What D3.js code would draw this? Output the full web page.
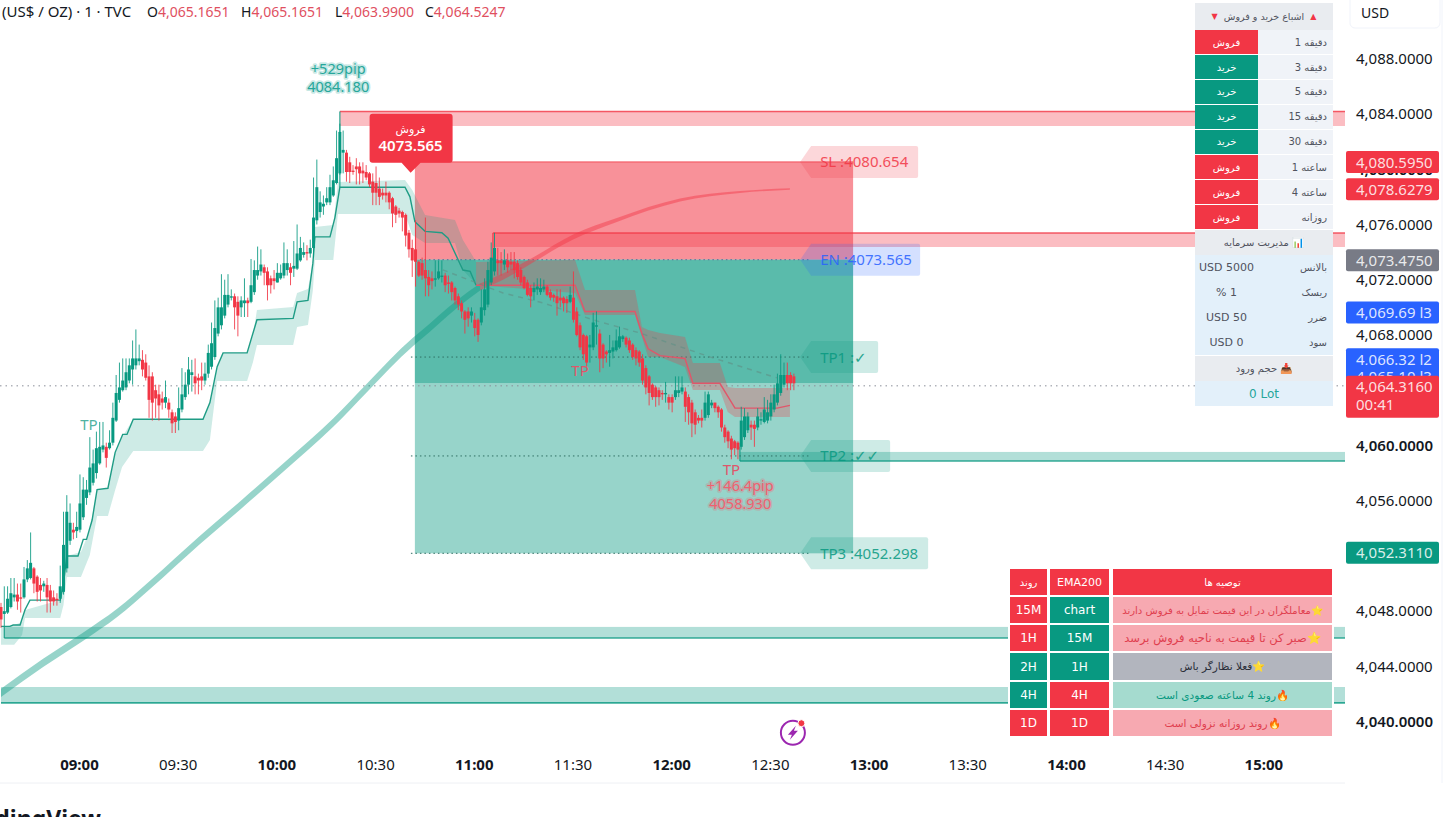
<!DOCTYPE html>
<html lang="en">

<head>
    <meta charset="UTF-8">
    <title>XAU/USD 1m - D3.JS</title>
    <style>
        html, body { margin: 0; padding: 0; background: #fff; overflow: hidden; }
        body { width: 1453px; height: 817px; position: relative; font-family: "Noto Sans", "DejaVu Sans", sans-serif; }
        svg { position: absolute; left: 0; top: 0; }
        .cell { position: absolute; display: flex; align-items: center; justify-content: center; box-sizing: border-box; white-space: nowrap; font-family: "DejaVu Sans", "Noto Sans", sans-serif; }
        .glow { paint-order: stroke; stroke-linejoin: round; }
        .tick line, .domain { display: none; }
    </style>
    <script src="https://d3js.org/d3.v7.min.js"></script>
</head>

<body>
    <div class="graph"></div>
</body>
<script>
    // one minute candles, first one is 08:36
    const opens = [
        4048.3,4047.8,4047.9,4048.3,4049.0,4049.2,4049.0,4049.0,4050.3,4050.4,
        4051.1,4050.5,4049.9,4049.8,4049.9,4049.5,4049.0,4048.9,4048.9,4049.4,
        4051.1,4053.1,4053.9,4053.8,4053.9,4054.8,4056.2,4056.6,4057.3,4058.0,
        4058.7,4059.7,4059.9,4059.8,4060.2,4061.8,4063.3,4064.0,4064.2,4064.7,
        4065.5,4065.8,4066.1,4066.2,4066.0,4065.0,4065.0,4064.0,4063.7,4063.4,
        4063.1,4063.1,4062.4,4062.1,4061.8,4062.6,4063.5,4064.4,4065.1,4065.0,
        4064.9,4065.0,4064.7,4065.2,4065.7,4066.4,4068.1,4068.7,4069.4,4070.2,
        4070.7,4070.8,4070.4,4070.0,4070.3,4070.5,4070.4,4071.1,4072.3,4072.6,
        4072.9,4072.6,4072.1,4072.1,4071.8,4072.1,4072.3,4072.7,4072.9,4072.8,
        4072.8,4073.4,4073.8,4074.0,4073.9,4074.3,4076.3,4076.9,4077.3,4077.6,
        4077.6,4078.1,4079.0,4079.7,4081.2,4081.2,4080.5,4079.9,4080.2,4080.2,
        4079.9,4079.8,4079.7,4079.1,4079.0,4078.6,4078.3,4078.3,4078.3,4077.9,
        4077.3,4077.0,4076.9,4076.7,4075.4,4074.3,4074.2,4073.3,4073.2,4072.7,
        4072.2,4072.1,4072.0,4072.1,4072.2,4072.3,4071.8,4071.8,4071.4,4070.8,
        4070.3,4069.7,4069.7,4069.4,4069.1,4069.1,4068.9,4069.8,4070.2,4071.8,
        4072.6,4073.4,4073.4,4073.1,4073.4,4073.3,4073.3,4073.2,4072.7,4072.2,
        4071.8,4071.4,4071.1,4071.3,4071.1,4071.3,4071.5,4071.1,4070.9,4070.8,
        4070.7,4070.7,4070.6,4070.4,4070.7,4069.7,4068.7,4068.0,4067.9,4067.1,
        4067.1,4068.6,4068.1,4067.3,4066.8,4066.7,4066.8,4066.9,4067.1,4067.7,
        4067.8,4067.6,4067.3,4066.9,4066.8,4066.3,4065.6,4065.0,4064.4,4064.2,
        4064.0,4063.8,4063.7,4063.5,4063.5,4063.5,4063.8,4063.9,4063.9,4063.5,
        4063.1,4062.4,4062.0,4062.0,4062.0,4062.2,4062.9,4063.1,4062.8,4062.6,
        4061.3,4061.0,4060.5,4060.3,4060.2,4059.9,4060.6,4061.1,4061.5,4061.5,
        4061.3,4061.8,4061.7,4061.8,4062.1,4062.6,4063.1,4063.8,4064.4,4065.1,
        4065.1,4065.0]
    const highs = [
        4048.6,4049.8,4049.8,4050.4,4050.4,4050.0,4050.0,4051.2,4051.7,4053.7,
        4051.2,4050.6,4050.4,4050.2,4050.4,4049.9,4049.5,4049.3,4051.3,4055.2,
        4056.4,4055.8,4054.4,4055.2,4057.9,4057.7,4057.5,4060.6,4059.7,4061.0,
        4061.7,4061.7,4060.2,4061.1,4063.1,4065.1,4066.0,4066.3,4066.3,4066.3,
        4067.6,4068.4,4067.3,4066.9,4066.6,4065.8,4065.3,4064.4,4064.4,4063.9,
        4064.7,4063.4,4062.6,4062.4,4064.2,4065.6,4065.3,4066.4,4066.2,4066.3,
        4065.2,4066.0,4066.0,4067.3,4068.9,4070.5,4070.7,4072.4,4072.0,4072.4,
        4071.3,4071.0,4070.8,4070.8,4072.1,4070.7,4073.5,4073.4,4074.4,4074.2,
        4073.1,4072.9,4072.3,4072.7,4073.2,4073.1,4074.7,4074.2,4073.2,4074.8,
        4076.0,4075.1,4074.7,4074.5,4074.9,4079.4,4080.7,4078.4,4078.1,4078.7,
        4079.6,4080.2,4082.8,4083.3,4082.8,4081.4,4080.9,4080.3,4080.8,4080.5,
        4080.5,4080.3,4079.8,4079.7,4080.2,4079.4,4078.6,4079.1,4078.4,4078.0,
        4077.4,4077.2,4077.0,4076.8,4075.6,4074.9,4076.3,4073.4,4073.6,4076.5,
        4072.7,4072.6,4073.4,4073.4,4073.4,4072.5,4072.3,4071.9,4071.5,4071.0,
        4070.5,4069.8,4070.0,4070.0,4069.6,4069.2,4071.3,4072.1,4073.3,4074.7,
        4075.4,4074.3,4074.0,4074.2,4073.9,4074.0,4074.0,4073.4,4072.9,4072.3,
        4072.0,4071.6,4071.8,4072.1,4072.1,4072.0,4071.6,4071.3,4071.0,4071.3,
        4071.3,4070.8,4070.8,4071.5,4072.6,4070.0,4068.9,4068.1,4068.0,4068.0,
        4069.6,4069.7,4068.4,4067.4,4066.9,4068.0,4067.6,4068.4,4068.6,4068.0,
        4067.9,4067.8,4067.4,4067.1,4066.9,4066.6,4065.8,4065.1,4064.5,4064.3,
        4064.2,4064.0,4064.6,4063.7,4063.7,4065.0,4065.0,4065.0,4064.2,4063.7,
        4063.3,4062.6,4062.2,4062.6,4063.9,4063.9,4063.3,4063.1,4062.9,4062.7,
        4061.5,4061.1,4060.7,4060.4,4060.3,4062.8,4062.7,4062.4,4061.8,4061.8,
        4062.7,4062.4,4063.5,4063.3,4063.7,4064.4,4065.2,4066.6,4066.0,4066.0,
        4065.3,4065.2]
    const lows = [
        4046.8,4046.9,4047.8,4048.2,4048.7,4048.1,4047.9,4048.9,4050.1,4050.3,
        4049.3,4048.7,4048.7,4049.4,4047.9,4047.9,4048.4,4048.4,4048.6,4049.2,
        4050.8,4052.8,4053.2,4053.3,4053.7,4054.6,4055.7,4056.4,4057.1,4057.6,
        4058.6,4059.5,4058.4,4059.7,4060.0,4061.7,4063.1,4063.9,4064.0,4064.5,
        4064.4,4065.5,4065.8,4065.0,4064.7,4062.0,4061.8,4062.0,4061.8,4062.6,
        4062.7,4062.0,4060.9,4060.9,4061.1,4062.4,4063.3,4063.7,4063.9,4063.7,
        4063.7,4064.0,4064.4,4064.9,4065.5,4066.2,4067.9,4068.4,4069.2,4070.0,
        4070.5,4068.4,4067.9,4069.3,4069.3,4069.3,4070.3,4070.9,4072.0,4072.3,
        4071.6,4070.5,4071.0,4071.3,4071.8,4072.0,4072.1,4072.3,4071.6,4072.2,
        4072.7,4073.3,4073.6,4073.4,4073.6,4073.6,4076.0,4076.5,4076.7,4077.4,
        4077.4,4078.0,4078.9,4079.6,4079.7,4079.1,4079.0,4079.6,4078.9,4078.9,
        4079.0,4079.2,4078.7,4077.4,4077.4,4077.4,4077.8,4077.6,4077.1,4075.8,
        4076.1,4076.5,4075.5,4074.4,4073.6,4072.2,4071.5,4072.2,4072.0,4070.8,
        4070.8,4071.3,4071.5,4072.0,4071.8,4071.1,4071.0,4070.5,4070.2,4069.8,
        4069.2,4068.1,4068.6,4068.9,4067.9,4067.5,4068.7,4069.4,4070.0,4071.6,
        4072.3,4072.3,4072.3,4072.7,4072.5,4072.7,4072.1,4072.0,4071.6,4071.3,
        4070.8,4070.0,4070.5,4070.9,4070.9,4071.1,4070.8,4070.5,4070.4,4069.4,
        4070.0,4069.7,4069.6,4070.3,4068.9,4067.9,4066.9,4066.2,4065.7,4066.0,
        4066.9,4067.3,4065.3,4065.6,4066.0,4065.7,4066.3,4066.8,4067.0,4067.5,
        4067.1,4066.7,4066.2,4065.8,4065.7,4064.4,4063.7,4062.9,4063.3,4062.8,
        4062.9,4063.3,4063.1,4062.6,4062.4,4063.3,4063.5,4063.7,4061.7,4061.5,
        4060.6,4060.8,4061.6,4061.3,4061.8,4062.0,4062.7,4062.4,4062.0,4061.0,
        4060.2,4059.8,4059.0,4059.3,4059.0,4059.7,4060.4,4060.9,4060.4,4059.9,
        4061.1,4061.5,4061.6,4061.6,4061.8,4062.4,4062.9,4063.6,4064.2,4064.0,
        4064.0,4064.0]
    const closes = [
        4047.4,4048.0,4048.9,4049.3,4049.2,4048.7,4048.9,4050.3,4051.1,4051.5,
        4050.0,4049.4,4049.5,4050.0,4049.0,4048.7,4048.7,4048.8,4049.8,4052.8,
        4055.2,4054.4,4053.7,4054.1,4055.8,4056.8,4056.8,4058.4,4058.7,4059.8,
        4059.9,4060.0,4059.1,4060.2,4062.0,4063.8,4064.2,4064.7,4065.3,4065.8,
        4066.3,4066.3,4066.3,4065.5,4064.9,4063.3,4063.1,4063.4,4062.9,4063.1,
        4063.5,4062.6,4061.6,4061.7,4062.7,4063.7,4064.4,4065.5,4065.3,4064.5,
        4064.7,4064.7,4065.2,4066.7,4067.4,4068.5,4070.0,4070.0,4070.9,4070.9,
        4070.8,4070.0,4069.4,4070.5,4070.5,4070.3,4071.6,4072.7,4072.7,4073.1,
        4072.5,4071.6,4071.6,4071.9,4072.5,4072.5,4073.2,4073.2,4072.5,4073.0,
        4073.9,4074.3,4074.0,4073.9,4074.3,4076.5,4078.7,4077.6,4077.5,4077.9,
        4078.7,4079.2,4080.8,4082.7,4081.4,4079.8,4079.8,4079.8,4080.0,4079.7,
        4079.7,4079.4,4078.9,4078.3,4078.3,4078.0,4078.1,4078.1,4077.6,4076.8,
        4076.7,4076.8,4076.5,4075.2,4074.2,4073.4,4073.3,4072.3,4072.3,4072.1,
        4071.6,4071.9,4072.1,4072.6,4072.3,4071.6,4071.7,4071.1,4070.5,4070.2,
        4069.7,4069.1,4069.2,4069.7,4068.5,4068.0,4070.0,4071.3,4072.7,4073.6,
        4074.3,4073.2,4073.2,4073.4,4072.9,4073.1,4072.7,4072.2,4071.8,4071.4,
        4070.9,4070.8,4071.4,4071.5,4071.4,4071.5,4070.9,4070.7,4070.7,4070.3,
        4070.5,4070.3,4070.3,4070.9,4069.1,4068.0,4067.1,4066.6,4066.0,4067.3,
        4068.9,4068.7,4066.3,4066.3,4066.6,4066.9,4067.1,4067.6,4067.9,4067.9,
        4067.3,4066.9,4066.4,4066.3,4066.0,4064.7,4064.2,4063.8,4063.5,4063.5,
        4063.5,4063.7,4063.8,4063.1,4063.1,4064.0,4064.0,4064.2,4062.8,4062.4,
        4061.6,4061.5,4061.8,4061.8,4063.1,4063.7,4063.1,4062.7,4062.4,4061.3,
        4060.6,4060.3,4059.7,4059.8,4059.7,4061.8,4062.1,4062.1,4061.3,4061.2,
        4062.1,4061.9,4062.6,4062.4,4063.1,4063.7,4064.5,4065.1,4065.1,4064.5,
        4064.5,4064.5]

    // trailing stop, minutes after 08:36
    const upTimes = [0,2.7,3.7,5.8,7.3,8.8,18,19,20,23.4,25,26,27.7,29.2,32.5,34.7,37,38.3,40.2,61.4,63.5,65.7,67.5,74.8,77.8,88.8,90,93.3,94.8,95.4,100,101.5,103,122.8,124.3,125.8,126.7,128.9,134,135.9,140.4,142.6,144.4]
    const upValues = [4046.9,4046.9,4047.0,4047.0,4048.1,4048.8,4048.8,4050.0,4052.0,4052.0,4053.2,4053.2,4054.6,4056.8,4056.9,4059.5,4060.8,4060.8,4061.9,4061.9,4063.1,4065.7,4066.7,4066.7,4069.1,4069.2,4070.4,4070.5,4073.2,4075.1,4075.1,4076.5,4078.7,4078.7,4078.0,4076.2,4076.0,4075.5,4075.4,4075.0,4072.7,4072.6,4071.6]
    const downTimes = [144.4,174.5,177.5,192.7,194.8,196.7,200.3,207.9,210.3,218.5,223.1,235.9,239.8]
    const downValues = [4071.6,4071.6,4069.7,4069.7,4068.1,4067.0,4066.5,4066.3,4064.5,4064.5,4062.7,4062.7,4062.9]

    // shaded band round the trailing stop
    const upBandTimes = [0,4,6.4,7.3,18,19,20,24.3,27,29.2,32.5,34.7,36.8,40.2,61.4,63.5,65.7,67.5,74.8,76.6,77.8,88.8,90,93.3,94.8,95.4,101,102.4,122.8,125,128.9,138,140.4,143.2,144.4]
    const upBandTop = [4046.86,4047.0,4047.22,4048.09,4048.81,4050.04,4052.0,4052.29,4053.88,4056.78,4056.85,4059.46,4060.6,4061.92,4061.92,4063.08,4065.68,4066.7,4066.7,4068.0,4069.81,4070.03,4071.04,4071.33,4073.28,4075.82,4075.96,4079.08,4079.22,4078.5,4076.69,4076.33,4074.88,4073.79,4073.28]
    const upBandBottom = [4045.56,4045.56,4046.28,4047.51,4047.51,4048.45,4050.48,4050.48,4052.07,4054.9,4054.9,4056.78,4058.44,4059.6,4059.6,4060.4,4064.67,4064.67,4064.67,4066.04,4067.28,4067.28,4068.58,4068.72,4071.26,4073.43,4073.43,4076.76,4076.76,4075.24,4074.66,4074.66,4072.71,4071.98,4071.84]
    const downBandTimes = [144.4,174.5,177.5,192.7,194.8,196.7,200.3,207.9,210.3,218.5,220.9,223.1,235.9,239.8]
    const downBandTop = [4073.28,4073.43,4071.26,4071.26,4068.58,4068.36,4068.14,4067.85,4065.97,4065.97,4064.23,4064.16,4064.16,4064.16]
    const downBandBottom = [4071.62,4071.04,4069.45,4069.45,4067.85,4066.41,4066.41,4065.68,4064.02,4064.02,4062.42,4062.06,4062.06,4062.06]

    const slowTimes = [134.3,152.6,164.8,180,194.2,215.5,235.9]
    const slowValues = [4072.71,4071.04,4070.32,4069.09,4068.14,4066.41,4064.89]

    // EMA200 ribbon, it turns red at emaTurn
    const emaTimes = [0,12.8,24.9,35.3,45.3,60.5,73.6,85.7,100.9,111.2,125.2,127.4,138.6,145.6,154.7,161.7,173.9,187.2,206.4,224.6,239.8]
    const emaValues = [4042.08,4044.25,4046.14,4047.87,4049.9,4053.16,4055.84,4058.37,4061.63,4064.16,4067.49,4067.93,4070.24,4071.47,4072.49,4073.43,4075.09,4076.33,4077.77,4078.35,4078.57]
    const emaSpread = [.3,.3,.3,.3,.3,.3,.3,.3,.3,.3,.3,.3,.28,.25,.22,.18,.18,.145,.11,.07,.05]
    const emaTurn = 145.6

    // support and resistance zones
    const zoneStart = [103,149.5,1,0,224.6]
    const zoneTop = [4084.18,4075.38,4046.86,4042.51,4059.53]
    const zoneBottom = [4083.13,4074.37,4046.06,4041.36,4058.87]
    const zoneStem = [4078.7,4073.4,4046.9,4041.36,4059.9]
    const zoneSide = ["up","up","down","down","down"]

    const entry = 4073.45, stop = 4080.53
    const targets = [4066.4, 4059.24, 4052.19]
    const lastClose = 4064.52, livePrice = 4064.316
    const boxStart = 125.8, boxEnd = 259

    const priceTicks = [4088,4084,4080,4076,4072,4068,4060,4056,4048,4044,4040]
    const timeTicks = ["09:00","09:30","10:00","10:30","11:00","11:30","12:00","12:30","13:00","13:30","14:00","14:30","15:00"]

    const tagValues = [4080.595,4078.6279,4073.475,4069.69,4066.32,4065.10,4052.311]
    const tagTexts = ["4,080.5950","4,078.6279","4,073.4750","4,069.69 l3","4,066.32 l2","4,065.10 l3","4,052.3110"]
    const tagColors = ["#f23645","#f23645","#787b86","#2962ff","#2962ff","#2962ff","#089981"]

    const frames = ["دقیقه 1","دقیقه 3","دقیقه 5","دقیقه 15","دقیقه 30","ساعته 1","ساعته 4","روزانه"]
    const frameSignals = ["فروش","خرید","خرید","خرید","خرید","فروش","فروش","فروش"]
    const moneyLabels = ["بالانس","ریسک","ضرر","سود"]
    const moneyValues = ["USD 5000","% 1","USD 50","USD 0"]

    const trendCol = ["15M","1H","2H","4H","1D"]
    const trendSide = ["sell","sell","buy","buy","sell"]
    const emaCol = ["chart","15M","1H","4H","1D"]
    const emaSide = ["buy","buy","buy","sell","sell"]
    const advice = ["⭐معاملگران در این قیمت تمایل به فروش دارند","⭐صبر کن تا قیمت به ناحیه فروش برسد","⭐فعلا نظارگر باش","🔥روند 4 ساعته صعودی است","🔥روند روزانه نزولی است"]
    const adviceBg = ["#f7a9b1","#f7a9b1","#b2b5be","#a5dbcf","#f7a9b1"]
    const adviceFg = ["#e0404f","#e0404f","#2a2e39","#089981","#e0404f"]

    const RED = "#f23645", GREEN = "#089981"
    const T0 = new Date(2025, 0, 6, 8, 36)
    const at = m => new Date(+T0 + m * 60000)
    const width = 1453, height = 817

    const x = d3.scaleTime().domain([at(0), at(408)]).range([1, 1343.3])
    const y = d3.scaleLinear().domain([4036, 4092]).range([776.9, 3.5])
    const xm = m => x(at(m))

    const svg = d3.select('.graph').append('svg').attr('width', width).attr('height', height)
    svg.append('clipPath').attr('id', 'plot').append('rect').attr('width', 1345).attr('height', 783)
    const plot = svg.append('g').attr('clip-path', 'url(#plot)')

    /* zones */
    zoneStart.forEach((m, i) => {
        const c = zoneSide[i] === "up" ? RED : GREEN
        plot.append('rect').attr('x', xm(m)).attr('width', 1345 - xm(m))
            .attr('y', y(zoneTop[i])).attr('height', y(zoneBottom[i]) - y(zoneTop[i]))
            .attr('fill', c).attr('opacity', zoneSide[i] === "up" ? .33 : .31)
        const edge = zoneSide[i] === "up" ? zoneTop[i] : zoneBottom[i]
        plot.append('line').attr('x1', xm(m)).attr('x2', 1345).attr('y1', y(edge)).attr('y2', y(edge))
            .attr('stroke', c).attr('stroke-width', 1.6).attr('opacity', .8)
        plot.append('line').attr('x1', xm(m)).attr('x2', xm(m)).attr('y1', y(edge)).attr('y2', y(zoneStem[i]))
            .attr('stroke', i === 0 ? GREEN : c).attr('stroke-width', 1.2).attr('opacity', .85)
    })

    /* position box */
    const box = (a, b, c, o) => plot.append('rect').attr('x', xm(boxStart)).attr('width', xm(boxEnd) - xm(boxStart))
        .attr('y', y(a)).attr('height', y(b) - y(a)).attr('fill', c).attr('opacity', o)
    box(stop, entry, RED, .55)
    box(entry, targets[2], GREEN, .42)
    box(entry, lastClose, GREEN, .42)
    plot.append('line').attr('x1', xm(boxStart)).attr('x2', xm(boxEnd)).attr('y1', y(stop)).attr('y2', y(stop))
        .attr('stroke', RED).attr('stroke-width', 1).attr('opacity', .8)

    const levelLine = (p, c) => plot.append('line').attr('x1', xm(124.6)).attr('x2', xm(246)).attr('y1', y(p)).attr('y2', y(p))
        .attr('stroke', c).attr('stroke-dasharray', '1.5 3').attr('stroke-width', 1)
    levelLine(entry, '#5a6a9a')
    targets.forEach(t => levelLine(t, '#2f6f63'))

    /* live price */
    plot.append('line').attr('x1', 0).attr('x2', 1345).attr('y1', y(livePrice)).attr('y2', y(livePrice))
        .attr('stroke', '#8a8e99').attr('stroke-dasharray', '1.5 4')

    /* ema ribbon */
    const emaRows = emaTimes.map((t, i) => ({ t, v: emaValues[i], s: emaSpread[i] }))
    const emaArea = d3.area().x(d => xm(d.t)).y0(d => y(d.v - d.s)).y1(d => y(d.v + d.s)).curve(d3.curveMonotoneX)
    plot.append('path').attr('d', emaArea(emaRows.filter(d => d.t <= emaTurn))).attr('fill', GREEN).attr('opacity', .42)
    plot.append('path').attr('d', emaArea(emaRows.filter(d => d.t >= emaTurn))).attr('fill', RED).attr('opacity', .45)

    /* trailing stop bands */
    const band = (ts, hi, lo, c, o) => plot.append('path')
        .attr('d', d3.area().x((d, i) => xm(ts[i])).y0((d, i) => y(lo[i])).y1((d, i) => y(hi[i]))(ts))
        .attr('fill', c).attr('opacity', o)
    band(upBandTimes, upBandTop, upBandBottom, GREEN, .2)
    band(downBandTimes, downBandTop, downBandBottom, RED, .28)

    const trail = (ts, vs, c, extra) => plot.append('path')
        .attr('d', d3.line().x((d, i) => xm(ts[i])).y(d => y(d))(vs))
        .attr('fill', 'none').attr('stroke', c).attr('stroke-width', 1.4).attr('stroke-dasharray', extra || null)
    trail(upTimes, upValues, '#1f9c85')
    trail(downTimes, downValues, '#e0566a')
    trail(slowTimes, slowValues, '#5f8f86', '5 5').attr('opacity', .6)

    /* candles */
    const candle = plot.append('g').selectAll('g').data(opens).join('g')
    const shade = i => closes[i] >= opens[i] ? GREEN : RED
    candle.append('line')
        .attr('x1', (d, i) => xm(i)).attr('x2', (d, i) => xm(i))
        .attr('y1', (d, i) => y(highs[i])).attr('y2', (d, i) => y(lows[i]))
        .attr('stroke', (d, i) => shade(i)).attr('stroke-width', 1).attr('opacity', .85)
    candle.append('rect')
        .attr('x', (d, i) => xm(i) - 1.5).attr('width', 3)
        .attr('y', (d, i) => y(Math.max(opens[i], closes[i])))
        .attr('height', (d, i) => Math.max(1, Math.abs(y(opens[i]) - y(closes[i]))))
        .attr('fill', (d, i) => shade(i))

    /* price labels on the box */
    const labels = [
        { p: stop, t: "SL :4080.654", w: 118, c: RED },
        { p: entry, t: "EN :4073.565", w: 120, c: "#2962ff" },
        { p: targets[0], t: "TP1 :✓", w: 78, c: GREEN },
        { p: targets[1], t: "TP2 :✓✓", w: 90, c: GREEN },
        { p: targets[2], t: "TP3 :4052.298", w: 128, c: GREEN }
    ]
    labels.forEach(l => {
        const x0 = xm(242.9), y0 = y(l.p)
        svg.append('path')
            .attr('d', `M${x0} ${y0} L${x0 + 11} ${y0 - 16} H${x0 + l.w - 2} Q${x0 + l.w} ${y0 - 16} ${x0 + l.w} ${y0 - 14} V${y0 + 14} Q${x0 + l.w} ${y0 + 16} ${x0 + l.w - 2} ${y0 + 16} H${x0 + 11} Z`)
            .attr('fill', l.c).attr('opacity', .2)
        svg.append('text').attr('x', x0 + 20).attr('y', y0 + 5.5).attr('font-size', 15).attr('fill', l.c).attr('opacity', .85).text(l.t)
    })

    /* text on the chart */
    const glow = (px, py, t, c) => svg.append('text').attr('class', 'glow').attr('x', px).attr('y', py)
        .attr('text-anchor', 'middle').attr('font-size', 14.5).attr('fill', c)
        .attr('stroke', c).attr('stroke-opacity', .25).attr('stroke-width', 3.5).text(t)
    glow(xm(102.5), y(4086.9), "+529pip", "#26a69a")
    glow(xm(102.5), y(4085.6), "4084.180", "#26a69a")
    glow(xm(224.7), y(4056.7), "+146.4pip", "#f0606f")
    glow(xm(224.7), y(4055.4), "4058.930", "#f0606f")
    const plain = (px, py, t, c) => svg.append('text').attr('x', px).attr('y', py).attr('text-anchor', 'middle')
        .attr('font-size', 15).attr('fill', c).text(t)
    plain(xm(26.7), y(4061.1), "TP", "#4fb3a3")
    plain(xm(176), y(4065), "TP", "#e0566a")
    plain(xm(222), y(4057.86), "TP", "#e0566a")

    /* sell flag */
    const fx = xm(124.5), fy = y(entry) - 146
    svg.append('path').attr('fill', RED)
        .attr('d', `M${fx - 41} ${fy + 3} Q${fx - 41} ${fy} ${fx - 38} ${fy} H${fx + 39} Q${fx + 42} ${fy} ${fx + 42} ${fy + 3} V${fy + 46} Q${fx + 42} ${fy + 49} ${fx + 39} ${fy + 49} H${fx + 10} L${fx} ${fy + 59} L${fx - 9} ${fy + 49} H${fx - 38} Q${fx - 41} ${fy + 49} ${fx - 41} ${fy + 46} Z`)
    svg.append('text').attr('x', fx).attr('y', fy + 19).attr('text-anchor', 'middle').attr('fill', '#fff')
        .attr('font-size', 11).attr('font-family', '"DejaVu Sans"').attr('direction', 'rtl').text("فروش")
    svg.append('text').attr('x', fx).attr('y', fy + 37).attr('text-anchor', 'middle').attr('fill', '#fff')
        .attr('font-size', 15).attr('font-weight', 600).text("4073.565")

    /* lightning badge */
    const badge = svg.append('g').attr('transform', `translate(${xm(240.7)},${y(4039.2)})`)
    badge.append('circle').attr('r', 12).attr('fill', '#fff').attr('stroke', '#9c27b0').attr('stroke-width', 2)
    badge.append('path').attr('d', 'M3 -7 L-5 2 H-1 L-3 7 L5 -2 H1 Z').attr('fill', '#9c27b0')
    badge.append('circle').attr('cx', 8.5).attr('cy', -9.5).attr('r', 3.5).attr('fill', RED).attr('stroke', '#fff')

    /* header */
    const head = svg.append('text').attr('x', 2).attr('y', 17).attr('font-size', 14).attr('fill', '#131722')
    head.append('tspan').attr('font-size', 15).text("(US$ / OZ) · 1 · TVC")
    const ohlc = [["O", "4,065.1651", 147], ["H", "4,065.1651", 241], ["L", "4,063.9900", 335], ["C", "4,064.5247", 425]]
    ohlc.forEach(o => {
        head.append('tspan').attr('x', o[2]).text(o[0])
        head.append('tspan').attr('fill', '#e0505f').text(o[1])
    })

    /* axes */
    const yAxis = svg.append('g').attr('transform', 'translate(1356,0)')
        .call(d3.axisRight(y).tickValues(priceTicks).tickSize(0).tickPadding(0).tickFormat(d3.format(",.4f")))
    yAxis.selectAll('text').attr('font-size', 15).attr('font-family', '"Noto Sans"').attr('fill', '#131722')
        .attr('font-weight', d => d % 20 === 0 ? 600 : 400)
    const timeParse = d3.timeParse("%H:%M")
    const timeDates = timeTicks.map(t => { const p = timeParse(t); return new Date(2025, 0, 6, p.getHours(), p.getMinutes()) })
    const xAxis = svg.append('g').attr('transform', 'translate(-1,759)')
        .call(d3.axisBottom(x).tickValues(timeDates).tickSize(0).tickPadding(0).tickFormat(d3.timeFormat("%H:%M")))
    xAxis.selectAll('text').attr('font-size', 15).attr('font-family', '"Noto Sans"').attr('fill', '#131722')
        .attr('font-weight', d => d.getMinutes() === 0 ? 700 : 400)
    svg.append('line').attr('x1', 0).attr('x2', 1345).attr('y1', 783).attr('y2', 783).attr('stroke', '#eef0f4')
    svg.append('line').attr('x1', 1442).attr('x2', 1442).attr('y1', 0).attr('y2', 783).attr('stroke', '#f0f3fa')
    svg.append('rect').attr('x', 1350).attr('y', -6).attr('width', 90).attr('height', 34).attr('rx', 5)
        .attr('fill', '#fff').attr('stroke', '#f0f3fa')
    svg.append('text').attr('x', 1361).attr('y', 18).attr('font-size', 14).attr('fill', '#131722').text("USD")
    svg.append('text').attr('x', 101).attr('y', 827).attr('text-anchor', 'end').attr('font-size', 23)
        .attr('font-weight', 700).attr('fill', '#131722').text("TradingView")

    /* price tags */
    const tag = (p, t, c, h) => {
        svg.append('rect').attr('x', 1346).attr('y', y(p) - 10).attr('width', 93).attr('height', h || 22).attr('rx', 2).attr('fill', c)
        svg.append('text').attr('x', 1356).attr('y', y(p) + 6.5).attr('font-size', 15).attr('font-family', '"Noto Sans"')
            .attr('fill', '#fff').attr('fill-opacity', .85).text(t)
    }
    tagValues.forEach((p, i) => tag(p, tagTexts[i], tagColors[i]))
    tag(livePrice, "4,064.3160", RED, 42)
    svg.append('text').attr('x', 1356).attr('y', y(livePrice) + 24).attr('font-size', 15).attr('font-family', '"Noto Sans"')
        .attr('fill', '#fff').attr('fill-opacity', .85).text("00:41")

    /* html tables */
    const page = d3.select('body')
    const cell = (l, t, w, h, bg, txt, fg, size, rtl, align) => page.append('div').attr('class', 'cell')
        .style('left', l + 'px').style('top', t + 'px').style('width', w + 'px').style('height', h + 'px')
        .style('background', bg).style('color', fg).style('font-size', size + 'px')
        .style('justify-content', align || 'center').style('padding', align ? '0 6px' : '0')
        .attr('dir', rtl ? 'rtl' : 'ltr').text(txt)

    const rowTop = [30, 55, 79.5, 104.5, 129.5, 155, 180, 205]
    cell(1195, 3, 138, 27, '#e9ecf0', "", '#50535e', 9.5, true)
        .html('<span style="color:#f23645;font-size:8px">▲</span>&nbsp;&nbsp;اشباع خرید و فروش&nbsp;&nbsp;<span style="color:#f23645;font-size:8px">▼</span>')
    frames.forEach((f, i) => {
        cell(1258, rowTop[i], 75, 24.2, '#f0f3f8', f, '#50535e', 10, true, 'flex-start')
        cell(1195, rowTop[i], 63, 24.2, frameSignals[i] === "فروش" ? RED : GREEN, frameSignals[i], '#fff', 10, true)
    })
    cell(1195, 230, 138, 25, '#e9ecf0', "📊 مدیریت سرمایه", '#50535e', 10, true)
    moneyLabels.forEach((f, i) => {
        const top = 255 + i * 25.1
        cell(1258, top, 75, 24.6, '#e3f0fa', f, '#50535e', 10, true, 'flex-start')
        cell(1195, top, 63, 24.6, '#e3f0fa', moneyValues[i], '#50535e', 11)
    })
    cell(1195, 356, 138, 25, '#e9ecf0', "📥 حجم ورود", '#50535e', 10, true)
    cell(1195, 381, 138, 25, '#e3f0fa', "0 Lot", '#26a69a', 12)

    cell(1008, 567, 326, 171, '#fff', "", '#000', 10)
    const tableTop = [569, 597, 625, 653, 682, 710], tableH = [26, 26, 26, 27, 26, 26]
    const adviceFont = [10, 11.5, 10.5, 10.5, 10.5]
    cell(1010, tableTop[0], 37, tableH[0], RED, "روند", '#fff', 10, true)
    cell(1050, tableTop[0], 59, tableH[0], RED, "EMA200", '#fff', 11)
    cell(1113, tableTop[0], 219, tableH[0], RED, "توصیه ها", '#fff', 10, true)
    trendCol.forEach((t, i) => {
        const top = tableTop[i + 1], h = tableH[i + 1]
        cell(1010, top, 37, h, trendSide[i] === "buy" ? GREEN : RED, t, '#fff', 12)
        cell(1050, top, 59, h, emaSide[i] === "buy" ? GREEN : RED, emaCol[i], '#fff', 12)
        cell(1113, top, 219, h, adviceBg[i], advice[i], adviceFg[i], adviceFont[i], true)
    })
</script>

</html>
